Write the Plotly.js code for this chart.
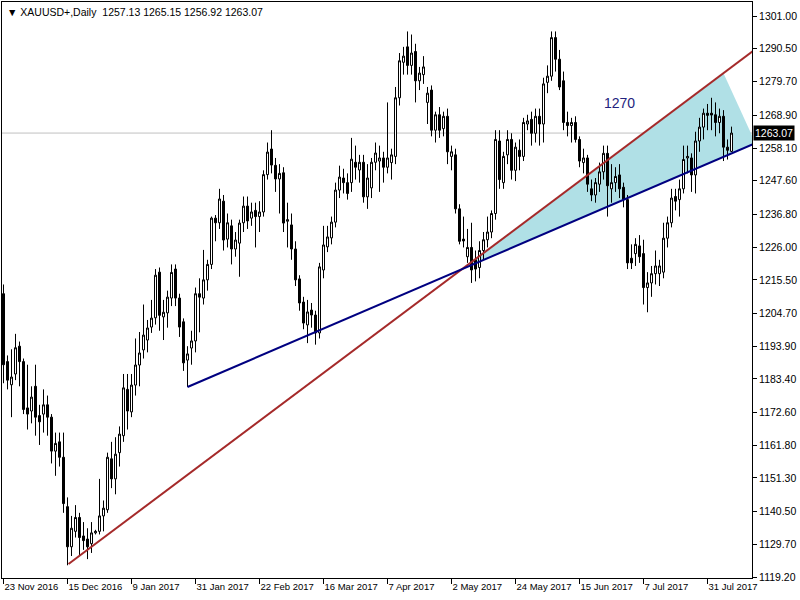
<!DOCTYPE html>
<html><head><meta charset="utf-8">
<script src="https://cdn.plot.ly/plotly-3.0.1.min.js"></script>
<style>html,body{margin:0;padding:0;background:#fff}#chart{width:800px;height:600px}</style>
</head><body><div id="chart"></div>
<script>
const symbol = "XAUUSD+,Daily";

const openP = [1211,1189,1181.5,1185,1194,1189,1174,1173,1181,1171.5,1172,1175,1171,1160,1163,1158,1142,1129,1134,1138.5,
1132.5,1131.5,1130,1133.5,1134,1139,1141,1157.5,1151,1159.5,1165,1180,1172.7,1181.4,1187.9,1192.8,1196,1200.2,1203.2,1218,
1203.5,1204.8,1209.6,1219,1209.6,1201.9,1189.5,1193.4,1195.7,1211,1209.6,1215.5,1220.5,1235.5,1234,1241,1228.7,1233,1225.5,1227.4,
1234,1239.4,1235.5,1238,1236,1237.5,1249.6,1257.9,1252.6,1248.2,1250.2,1234.5,1233.3,1225.5,1215.8,1208.3,1200.9,1205.7,1204.1,1198.3,
1218.7,1226.2,1229.1,1234.2,1244.6,1248.5,1247,1247,1253.6,1251.1,1253.6,1242.4,1245.3,1253.6,1254,1255,1252,1253.5,1255.5,1274.5,
1286,1291,1285,1289.5,1280,1282,1273,1277,1264,1269,1264.5,1268.5,1255.5,1256,1238.5,1228.7,1223,1226,1222,1219.5,
1225,1228.5,1231,1237,1260.5,1247,1256,1261,1251,1257.5,1255.5,1266,1267.5,1263,1268.5,1266,1279.5,1281.5,1294,1287,
1280,1266.5,1265.5,1266.5,1261,1253.5,1255,1245,1243,1246.5,1250.5,1256.5,1245,1247,1249.5,1245.5,1241.5,1222.5,1224,1226.5,
1224,1213,1214.5,1217.5,1217.5,1218,1229,1234,1242.5,1241.5,1245,1255,1255,1249.5,1260.5,1265,1269.5,1269.5,1269,1266.5,
1268.5,1258.5,1257.13];
const highP = [1214,1191,1193,1198,1195.5,1190,1188,1181,1188,1175,1180,1178,1172,1166,1166,1166,1145,1139,1142.5,1140,
1137,1135,1137,1134.5,1151,1144,1159.5,1163,1164.5,1168,1185,1185,1185,1196.5,1198.6,1207.5,1202.5,1209,1219,1219.5,
1209,1212,1220.5,1220.5,1211,1203,1194,1199,1213,1216,1225.2,1222,1236,1236.5,1245,1243,1237,1235,1231,1235,
1242.5,1242.5,1240.5,1240.5,1241,1251,1260,1264,1255,1253,1252,1240.5,1237,1228,1217,1210,1209,1208,1205.5,1221,
1233,1233,1236,1247,1252.5,1251.5,1250,1261.5,1259,1256,1256,1253,1255,1260,1259,1257,1273,1258,1278,1289,
1291,1296,1295,1292,1284.5,1288,1278,1278.5,1270,1271.5,1270,1271,1259,1258,1240,1236,1232,1234,1225,1228,
1231,1236,1238,1264,1264,1257,1264,1263,1260,1261,1268,1269,1270,1271,1271,1281,1285,1296,1296,1290,
1283,1270,1268,1268.5,1262,1258,1256,1248,1248.5,1253.5,1259,1259,1253,1252,1253,1247,1243,1227,1229,1230,
1228.5,1218,1220,1225,1222,1234,1236,1245,1245,1248,1259,1259,1256.5,1263.5,1268,1271,1272.5,1274.5,1273,1271,
1270.5,1261,1265.15];
const lowP = [1182,1180,1171,1183,1181,1172,1167,1169,1165,1162,1166,1165,1156,1152,1155,1140,1123,1126,1132,1126,
1128,1125,1127,1133,1133,1134,1140,1148,1146,1155,1163,1167,1171,1178,1181,1190,1192,1198.3,1201,1199,
1196,1200,1207,1207,1197,1186,1180.8,1188,1192,1198.5,1207.5,1212,1219,1228,1232,1225,1226,1220.5,1223,1216.5,
1231,1232,1233,1226,1231,1236,1248,1250,1244,1237,1231,1226,1222,1213.5,1205.5,1199.5,1195,1200,1194.5,1196.5,
1216,1224.5,1227,1232.5,1242,1243.5,1241.5,1244,1248,1247,1240.5,1238.5,1242,1251,1244,1247,1250,1248,1253,1272,
1282,1282,1282,1273,1277,1279,1266,1262,1260,1261.5,1262,1253,1251,1237,1227,1226,1221,1214.5,1215,1216,
1222,1226,1229,1235,1245,1245,1253,1248,1247.5,1251,1254,1264,1259,1260,1259,1260,1276,1280,1283,1277,
1264,1262,1260,1260,1252,1250,1244,1241,1240.5,1244,1248,1236,1240.5,1244,1242,1239,1219,1219,1220,1221,
1207.5,1205,1210,1214,1213.5,1216,1226,1232.5,1238,1236,1243.5,1250,1244,1243.5,1257,1261,1264,1264,1262,1263,
1254,1254.5,1256.92];
const closeP = [1188,1183,1184,1193.5,1189,1173.5,1172,1177.5,1171,1169.5,1175,1171,1160,1162.5,1158,1143,1129,1135,1138.5,1132,
1131,1129,1133.5,1134,1139,1141.5,1158,1151,1159,1165.5,1180.5,1173,1181.4,1187.9,1191.8,1197.6,1199.9,1203.1,1217,1204,
1205,1209.9,1217.9,1209.6,1200.2,1188.6,1191.5,1195.7,1211,1209.9,1215.5,1220.5,1235.5,1234,1241.7,1228.4,1234,1225.5,1228.4,1233.9,
1239.4,1234.6,1237.5,1236,1237.5,1249.6,1256.9,1252.7,1248.2,1250,1233.9,1235,1225.5,1215.5,1208,1201.5,1205.1,1204.1,1198.3,1219.7,
1226.8,1229.4,1234.2,1244.6,1248.8,1247,1243.5,1254.6,1252,1253.6,1242.4,1248.5,1253.6,1256.6,1255,1252,1255,1256,1274.5,1286.5,
1288,1285,1289,1280,1282.5,1284.5,1276,1264,1269,1264,1268.5,1257,1257,1238.5,1228,1228.1,1226,1218.7,1219,1225,
1228.5,1231,1237,1261,1248,1255.5,1261,1251,1258.5,1255.5,1266.5,1267,1263,1268.5,1266,1279,1281.5,1294,1287,1278,
1266.5,1265.5,1266.5,1261,1254,1255,1246.5,1243,1247,1250.5,1256.5,1246,1247,1249,1245,1241.5,1221,1221,1227,1223,
1213,1214.5,1217.5,1220,1220,1229,1234,1242,1241,1245,1254.5,1255.5,1249.5,1260.5,1265,1269.5,1268.8,1268.9,1266.5,1268.5,
1258.5,1257.5,1263.07];

const xTickIdx = [0,16,32,48,64,80,96,112,128,144,160,176];
const xTickText = ["23 Nov 2016","15 Dec 2016","9 Jan 2017","31 Jan 2017","22 Feb 2017","16 Mar 2017","7 Apr 2017","2 May 2017","24 May 2017","15 Jun 2017","7 Jul 2017","31 Jul 2017"];
const yTickVals = [1301.00,1290.50,1279.70,1268.90,1258.10,1247.60,1236.80,1226.00,1215.50,1204.70,1193.90,1183.40,1172.60,1161.80,1151.30,1140.50,1129.70,1119.20];

const redLineX = [16.25, 188];
const redLineY = [1123.42, 1290.23];
const blueLineX = [46, 188];
const blueLineY = [1180.78, 1259.78];
const triX = [114.61, 180, 188];
const triY = [1218.95, 1282.46, 1259.78];
const textLabel = "1270";
const textLabelX = 154;
const textLabelY = 1272.8;

const n = closeP.length;
const barIdx = closeP.map((_, i) => i);
const last = n - 1;

const triPath = 'M ' + triX.map((v, i) => v + ',' + triY[i]).join(' L ') + ' Z';

const traces = [
  {type:'candlestick', x: barIdx, open: openP, high: highP, low: lowP, close: closeP,
   increasing:{line:{color:'#000000', width:1}, fillcolor:'#FFFFFF'},
   decreasing:{line:{color:'#000000', width:1}, fillcolor:'#000000'},
   whiskerwidth:0, hoverinfo:'skip'},
  {type:'scatter', mode:'lines', x: redLineX, y: redLineY, line:{color:'#A52A2A', width:2}, hoverinfo:'skip'},
  {type:'scatter', mode:'lines', x: blueLineX, y: blueLineY, line:{color:'#000080', width:2}, hoverinfo:'skip'}
];

const fontFam = '"Liberation Sans", Arial, sans-serif';
const layout = {
  width:800, height:600, showlegend:false,
  paper_bgcolor:'#FFFFFF', plot_bgcolor:'#FFFFFF',
  margin:{l:2, r:48, t:2, b:22, pad:0},
  boxgap:0.5, boxgroupgap:0,
  xaxis:{range:[-0.375, 187.125], rangeslider:{visible:false}, type:'linear',
    tickmode:'array', tickvals: xTickIdx, ticktext: xTickText, tickangle:0,
    ticks:'outside', ticklen:5, tickcolor:'#000', tickwidth:1,
    ticklabelposition:'outside right',
    tickfont:{family:fontFam, size:9.5, color:'#000'},
    showgrid:false, zeroline:false, showline:true, linecolor:'#000', linewidth:1, mirror:true, automargin:false},
  yaxis:{range:[1118.88, 1305.54], side:'right',
    tickmode:'array', tickvals: yTickVals, ticktext: yTickVals.map(v => v.toFixed(2)),
    ticks:'outside', ticklen:4, tickcolor:'#000', tickwidth:1,
    tickfont:{family:fontFam, size:10.5, color:'#000'},
    showgrid:false, zeroline:false, showline:true, linecolor:'#000', linewidth:1, mirror:true, automargin:false},
  shapes:[
    {type:'path', xref:'x', yref:'y', path: triPath, fillcolor:'#B0E0E6', line:{width:0}, layer:'below'},
    {type:'line', xref:'paper', x0:0, x1:1, yref:'y', y0: closeP[last], y1: closeP[last],
     line:{color:'#C0C0C0', width:1}, layer:'below'}
  ],
  annotations:[
    {xref:'paper', yref:'paper', x:0, y:1, xanchor:'left', yanchor:'top', xshift:3, yshift:-2, showarrow:false,
     text: '\u25BC ' + symbol + '  ' + openP[last].toFixed(2) + ' ' + highP[last].toFixed(2) + ' ' + lowP[last].toFixed(2) + ' ' + closeP[last].toFixed(2),
     font:{family:fontFam, size:10.5, color:'#000'}},
    {xref:'paper', yref:'y', x:1, y: closeP[last], xanchor:'left', yanchor:'middle', xshift:1, showarrow:false,
     text: closeP[last].toFixed(2), bgcolor:'#000000', borderpad:1,
     font:{family:fontFam, size:10.5, color:'#FFFFFF'}},
    {xref:'x', yref:'y', x: textLabelX, y: textLabelY, showarrow:false, text: textLabel,
     font:{family:fontFam, size:14, color:'#23237E'}}
  ]
};

Plotly.newPlot('chart', traces, layout, {displayModeBar:false, staticPlot:true});
</script>
</body></html>
